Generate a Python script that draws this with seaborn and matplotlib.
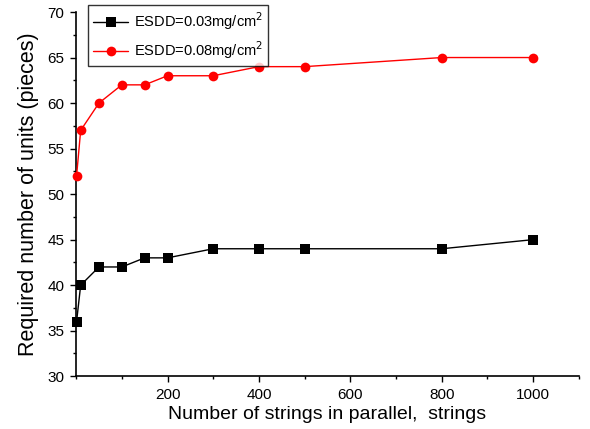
import matplotlib
matplotlib.use("Agg")
import matplotlib.pyplot as plt
import pandas as pd
import seaborn as sns
from matplotlib.ticker import MultipleLocator

strings = [1, 10, 50, 100, 150, 200, 300, 400, 500, 800, 1000]
units_003 = [36, 40, 42, 42, 43, 43, 44, 44, 44, 44, 45]
units_008 = [52, 57, 60, 62, 62, 63, 63, 64, 64, 65, 65]

sns.set_style("ticks")
plt.rcParams['font.family'] = ['Liberation Sans', 'DejaVu Sans']
plt.rcParams['text.color'] = 'black'
plt.rcParams['axes.labelcolor'] = 'black'
plt.rcParams['xtick.color'] = 'black'
plt.rcParams['ytick.color'] = 'black'

df = pd.concat([
    pd.DataFrame({'x': strings, 'y': units_003, 'run': 'ESDD=0.03mg/cm$^2$'}),
    pd.DataFrame({'x': strings, 'y': units_008, 'run': 'ESDD=0.08mg/cm$^2$'}),
])

fig = plt.figure(figsize=(5.9, 4.29), dpi=100)
ax = fig.add_axes([0.129, 0.123, 0.852, 0.849])
sns.lineplot(data=df, x='x', y='y', hue='run', style='run',
             palette=['black', 'red'], markers=['s', 'o'], dashes=False,
             markersize=7, linewidth=1, markeredgewidth=0, ax=ax,
             clip_on=False, zorder=3)

ax.set_xlim(0, 1100)
ax.set_ylim(30, 70)
ax.set_xticks([200, 400, 600, 800, 1000])
ax.xaxis.set_minor_locator(MultipleLocator(100))
ax.yaxis.set_major_locator(MultipleLocator(5))
ax.yaxis.set_minor_locator(MultipleLocator(2.5))
ax.tick_params(which='both', direction='out', labelsize=11, width=1, colors='black')
ax.tick_params(which='major', length=4.5, pad=4)
ax.tick_params(which='minor', length=2.5)
sns.despine(ax=ax)
for s in ['left', 'bottom']:
    ax.spines[s].set_linewidth(1.2)
    ax.spines[s].set_color('black')

ax.set_xlabel('Number of strings in parallel,  strings', fontsize=14, labelpad=3)
ax.set_ylabel('Required number of units (pieces)', fontsize=15.5, labelpad=6)

leg = ax.legend(loc='upper left', bbox_to_anchor=(0.024, 1.019), fontsize=10.5,
                frameon=True, fancybox=False, handlelength=2.4, handletextpad=0.4,
                borderpad=0.35, labelspacing=0.5, borderaxespad=0)
leg.get_frame().set_edgecolor('black')
leg.get_frame().set_linewidth(1)

fig.savefig('out.png', dpi=100)
